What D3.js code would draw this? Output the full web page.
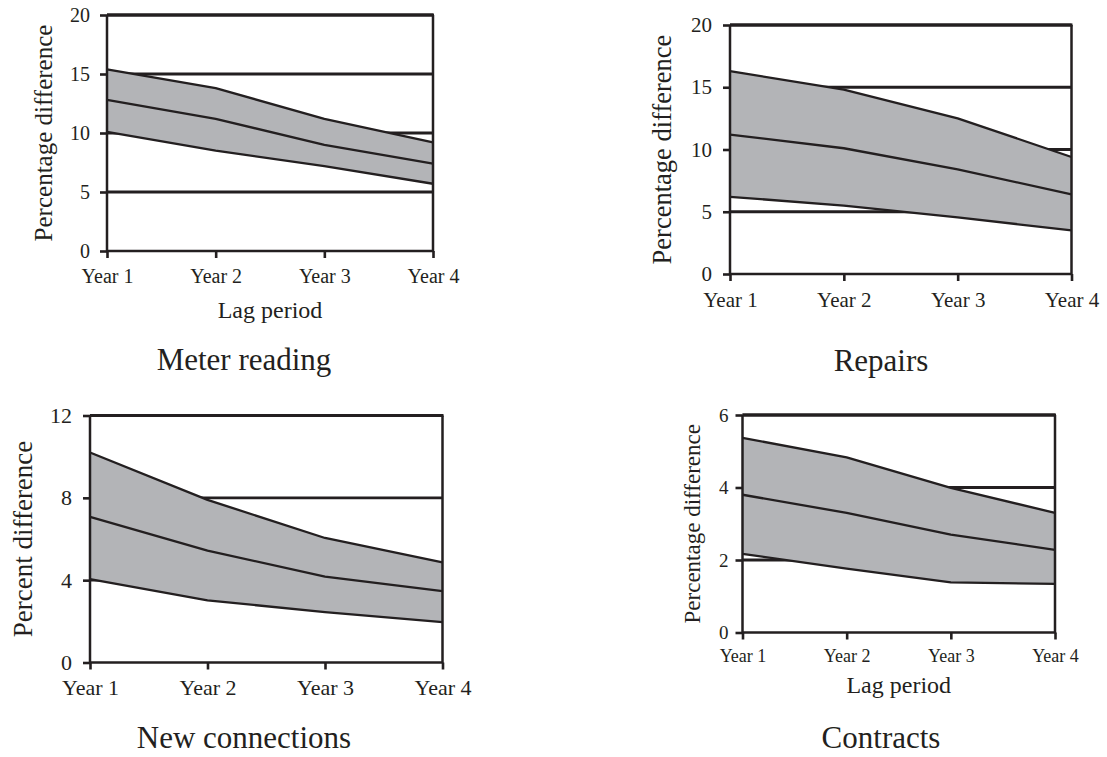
<!DOCTYPE html>
<html>
<head>
<meta charset="utf-8">
<script src="https://cdn.jsdelivr.net/npm/d3@7"></script>
<style>
  body { margin: 0; background: #fff; }
  text { font-family: "Liberation Serif", "Times New Roman", serif; fill: #231f20; }
  .domain { display: none; }
</style>
</head>
<body>
<script>
(function(){

//categories on the x axis
var years = ["Year 1", "Year 2", "Year 3", "Year 4"];

//meter reading band (upper, centre, lower)
var meterUpper = [15.4, 13.8, 11.2, 9.2];
var meterMid   = [12.8, 11.2, 9.0, 7.4];
var meterLower = [10.1, 8.5, 7.2, 5.7];
var meterTicks = [0, 5, 10, 15, 20];

//repairs band
var repairsUpper = [16.3, 14.8, 12.5, 9.4];
var repairsMid   = [11.2, 10.1, 8.4, 6.4];
var repairsLower = [6.2, 5.5, 4.55, 3.5];
var repairsTicks = [0, 5, 10, 15, 20];

//new connections band
var connUpper = [10.2, 7.9, 6.05, 4.87];
var connMid   = [7.08, 5.44, 4.17, 3.47];
var connLower = [4.05, 3.02, 2.45, 1.96];
var connTicks = [0, 4, 8, 12];

//contracts band
var contrUpper = [5.37, 4.83, 3.99, 3.3];
var contrMid   = [3.8, 3.3, 2.7, 2.28];
var contrLower = [2.17, 1.76, 1.38, 1.34];
var contrTicks = [0, 2, 4, 6];

var ink = "#231f20",
    bandFill = "#b3b4b7";

var svg = d3.select("body")
    .append("svg")
    .attr("width", 1107)
    .attr("height", 757);

//panel frames and text placement
var panels = [
    {title: "Meter reading", ylabel: "Percentage difference", lag: true,
     upper: meterUpper, mid: meterMid, lower: meterLower, ticks: meterTicks,
     left: 107, right: 433, top: 15, bottom: 251, capX: 244,
     tickFont: 20, yearFont: 20, yearGap: 11, yPad: 10, ylabFont: 25, ylabX: 52,
     lagY: 318, titleY: 370},
    {title: "Repairs", ylabel: "Percentage difference", lag: false,
     upper: repairsUpper, mid: repairsMid, lower: repairsLower, ticks: repairsTicks,
     left: 730, right: 1071.5, top: 25, bottom: 274, capX: 881,
     tickFont: 21, yearFont: 21, yearGap: 11, yPad: 11, ylabFont: 26.5, ylabX: 671,
     titleY: 371},
    {title: "New connections", ylabel: "Percent difference", lag: false,
     upper: connUpper, mid: connMid, lower: connLower, ticks: connTicks,
     left: 90, right: 442.5, top: 415.5, bottom: 662.5, capX: 244,
     tickFont: 22, yearFont: 22, yearGap: 10, yPad: 11, ylabFont: 27, ylabX: 32,
     titleY: 748},
    {title: "Contracts", ylabel: "Percentage difference", lag: true,
     upper: contrUpper, mid: contrMid, lower: contrLower, ticks: contrTicks,
     left: 742.5, right: 1055, top: 415, bottom: 632.5, capX: 881,
     tickFont: 19, yearFont: 18, yearGap: 10, yPad: 7, ylabFont: 23, ylabX: 700,
     lagY: 693, titleY: 748}
];

panels.forEach(drawPanel);

function drawPanel(p){
    var x = d3.scalePoint()
        .domain(years)
        .range([p.left, p.right]);

    var y = d3.scaleLinear()
        .domain([0, d3.max(p.ticks)])
        .range([p.bottom, p.top]);

    var g = svg.append("g");

    //horizontal reference lines (drawn under the band)
    g.selectAll(".grid")
        .data(p.ticks.filter(function(t){ return t > 0; }))
        .enter()
        .append("line")
        .attr("class", "grid")
        .attr("x1", p.left)
        .attr("x2", p.right)
        .attr("y1", function(d){ return y(d); })
        .attr("y2", function(d){ return y(d); })
        .style("stroke", ink)
        .style("stroke-width", 2.8);

    var rows = years.map(function(yr, i){
        return {year: yr, hi: p.upper[i], mid: p.mid[i], lo: p.lower[i]};
    });

    //grey band between the upper and lower lines
    var area = d3.area()
        .x(function(d){ return x(d.year); })
        .y0(function(d){ return y(d.lo); })
        .y1(function(d){ return y(d.hi); });

    g.append("path")
        .datum(rows)
        .attr("d", area)
        .style("fill", bandFill)
        .style("stroke", "none");

    //the three lines
    ["hi", "mid", "lo"].forEach(function(key){
        var line = d3.line()
            .x(function(d){ return x(d.year); })
            .y(function(d){ return y(d[key]); });
        g.append("path")
            .datum(rows)
            .attr("d", line)
            .style("fill", "none")
            .style("stroke", ink)
            .style("stroke-width", 2.3)
            .style("stroke-linejoin", "round");
    });

    //frame: left, right and bottom
    g.append("path")
        .attr("d", "M" + p.left + "," + p.top + "V" + p.bottom + "H" + p.right + "V" + p.top)
        .style("fill", "none")
        .style("stroke", ink)
        .style("stroke-width", 2.5);

    //top line
    g.append("line")
        .attr("x1", p.left)
        .attr("x2", p.right + 1)
        .attr("y1", y(d3.max(p.ticks)))
        .attr("y2", y(d3.max(p.ticks)))
        .style("stroke", ink)
        .style("stroke-width", 3);

    //y axis
    var yAxis = d3.axisLeft(y)
        .tickValues(p.ticks)
        .tickSize(7)
        .tickPadding(p.yPad)
        .tickFormat(d3.format("d"));
    g.append("g")
        .attr("transform", "translate(" + p.left + ",0)")
        .call(yAxis)
        .selectAll("text")
        .style("font-size", p.tickFont + "px")
        .style("fill", ink);

    //x axis
    var xAxis = d3.axisBottom(x)
        .tickSize(7)
        .tickPadding(p.yearGap);
    g.append("g")
        .attr("transform", "translate(0," + p.bottom + ")")
        .call(xAxis)
        .selectAll("text")
        .style("font-size", p.yearFont + "px")
        .style("fill", ink);

    g.selectAll(".tick line").style("stroke", ink).style("stroke-width", 2.6);

    //y axis title
    g.append("text")
        .attr("transform", "translate(" + p.ylabX + "," + ((p.top + p.bottom) / 2) + ") rotate(-90)")
        .attr("text-anchor", "middle")
        .style("font-size", p.ylabFont + "px")
        .text(p.ylabel);

    //x axis title
    if (p.lag){
        g.append("text")
            .attr("x", (p.left + p.right) / 2)
            .attr("y", p.lagY)
            .attr("text-anchor", "middle")
            .style("font-size", "24px")
            .text("Lag period");
    };

    //panel caption
    g.append("text")
        .attr("x", p.capX)
        .attr("y", p.titleY)
        .attr("text-anchor", "middle")
        .style("font-size", "31px")
        .text(p.title);
};

})();
</script>
</body>
</html>
